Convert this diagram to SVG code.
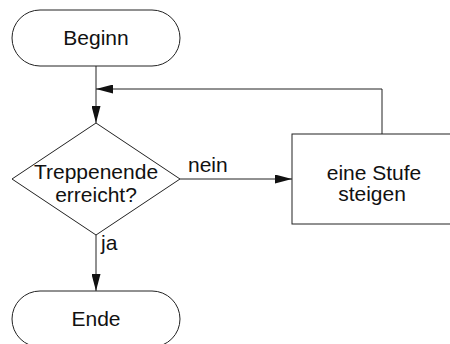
<svg xmlns="http://www.w3.org/2000/svg" width="450" height="344" viewBox="0 0 450 344">
  <style>
    .shape { fill: #ffffff; stroke: #222222; stroke-width: 1; }
    .edge { fill: none; stroke: #222222; stroke-width: 1; }
    text { font-family: "Liberation Sans", Arial, sans-serif; font-size: 21px; fill: #111111; }
    .c { text-anchor: middle; }
  </style>
  <defs>
    <marker id="arrow" viewBox="0 0 17 9" refX="17" refY="4.5" markerWidth="17" markerHeight="9" markerUnits="userSpaceOnUse" orient="auto">
      <path d="M0,0 L17,4.5 L0,9 Z" fill="#111111"/>
    </marker>
  </defs>
  <rect width="450" height="344" fill="#ffffff"/>

  <g id="connectors">
    <path class="edge" d="M96,66 V123" marker-end="url(#arrow)"/>
    <path class="edge" d="M382,134 V89 H96" marker-end="url(#arrow)"/>
    <path class="edge" d="M180,179 H292" marker-end="url(#arrow)"/>
    <path class="edge" d="M96,235 V291" marker-end="url(#arrow)"/>
    <text x="188" y="172">nein</text>
    <text x="101" y="250">ja</text>
  </g>

  <g id="start">
    <rect class="shape" x="12" y="10" width="168" height="56" rx="28" ry="28"/>
    <text class="c" x="96" y="45">Beginn</text>
  </g>

  <g id="decision">
    <polygon class="shape" points="96,123 180,179 96,235 12,179"/>
    <text class="c" x="96" y="179">Treppenende</text>
    <text class="c" x="96" y="202">erreicht?</text>
  </g>

  <g id="step">
    <rect class="shape" x="292" y="134" width="170" height="90"/>
    <text class="c" x="374" y="180">eine Stufe</text>
    <text class="c" x="372" y="201">steigen</text>
  </g>

  <g id="end">
    <rect class="shape" x="12" y="291" width="168" height="56" rx="28" ry="28"/>
    <text class="c" x="96" y="326">Ende</text>
  </g>
</svg>
